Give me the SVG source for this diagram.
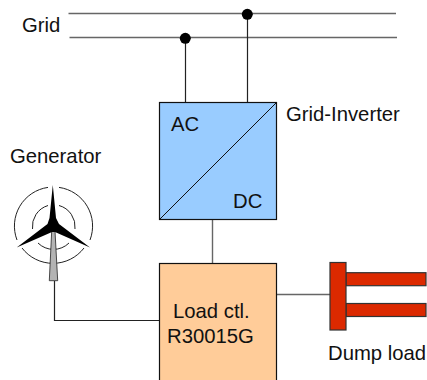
<svg xmlns="http://www.w3.org/2000/svg" width="427" height="380" viewBox="0 0 427 380">
<style>
text{font-family:"Liberation Sans",Arial,sans-serif;font-size:20.300px;fill:#111}
.w{fill:none;stroke:#222;stroke-width:1.2}
.g{fill:none;stroke:#666;stroke-width:1.4}
.box{stroke:#111;stroke-width:1.2}
.red{fill:#dc2900;stroke:#333;stroke-width:1.2}
.arc{fill:none;stroke:#222;stroke-width:1}
</style>
<g id="connectors">
<path class="g" d="M68.500 13.500H396M69.500 37.500H397"/>
<path class="w" d="M185.500 38V102.500M247.500 14V102.500M54.500 281V320.500H159.500"/>
<path class="g" d="M212.500 219.500V263.500M276.500 294.500H330"/>
<circle cx="185.300" cy="38.300" r="5.500" fill="#000"/>
<circle cx="247.300" cy="14.300" r="5.500" fill="#000"/>
</g>
<g id="grid"><text x="22" y="32">Grid</text></g>
<g id="inverter">
<rect class="box" x="159.500" y="102.500" width="117" height="117" fill="#99ccff"/>
<path d="M159.500 219.500L276.500 102.500" stroke="#111" stroke-width="1" fill="none"/>
<text x="171" y="131">AC</text>
<text x="233" y="208">DC</text>
<text x="286" y="121">Grid-Inverter</text>
</g>
<g id="load">
<rect class="box" x="159.500" y="263.500" width="117" height="118" fill="#ffcc99"/>
<text x="173" y="318">Load ctl.</text>
<text x="167" y="343">R30015G</text>
</g>
<g id="generator">
<text x="10" y="163">Generator</text>
<path class="arc" d="M48 187.400A39 39 0 0 0 17 240M22 248A39 39 0 0 0 84 248M90 240A39 39 0 0 0 59 187.400"/>
<path class="arc" d="M48 205.500A22 22 0 0 0 32.500 229M38 243A22 22 0 0 0 69 243M75 229A22 22 0 0 0 59 205.500"/>
<path d="M51.700 231H55L57.700 280.700H49.300Z" fill="#b3b3b3" stroke="#222" stroke-width="0.8"/>
<path d="M52.800 185L56 218L59 224L90 247.500L55 232L52 232L16.700 247.500L47.500 224L49.500 218Z" fill="#000"/>
</g>
<g id="dump">
<rect class="red" x="346" y="272.700" width="80" height="13"/>
<rect class="red" x="346" y="303.500" width="80" height="13"/>
<rect class="red" x="330" y="262.500" width="16" height="67.500"/>
<text x="328" y="360">Dump load</text>
</g>
</svg>
